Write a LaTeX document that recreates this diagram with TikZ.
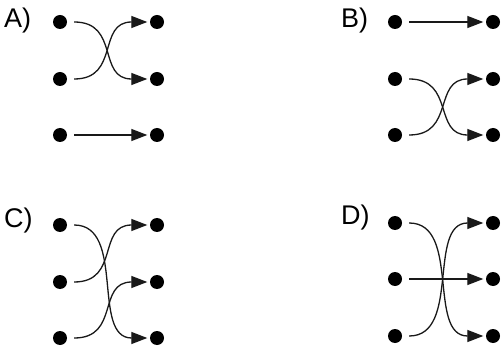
\documentclass[tikz,border=0pt]{standalone}
\usepackage{fontspec}
\setmainfont{Liberation Sans}
\usetikzlibrary{arrows.meta}
\begin{document}
\begin{tikzpicture}[x=1pt,y=-1pt,
 dot/.style={circle,fill=black,inner sep=0pt,minimum size=14pt},
 conn/.style={line width=1.3pt,draw=black!90, -{Triangle[length=16pt,width=12pt]}, shorten <=7pt, shorten >=2.5pt},
 lab/.style={anchor=base west, inner sep=0pt, font=\fontsize{27}{27}\selectfont}]
\useasboundingbox (0,0) rectangle (502,352);
% labels
\node[lab] (la) at (4,28) {A)};
\node[lab] (lb) at (341,28) {B)};
\node[lab] (lc) at (4,227) {C)};
\node[lab] (ld) at (341,225) {D)};
% panel A
\node[dot] (a1) at (60,22) {};
\node[dot] (a2) at (60,79) {};
\node[dot] (a3) at (60,135) {};
\node[dot] (a4) at (157,22) {};
\node[dot] (a5) at (157,79) {};
\node[dot] (a6) at (157,135) {};
% panel B
\node[dot] (b1) at (395,22) {};
\node[dot] (b2) at (395,79) {};
\node[dot] (b3) at (395,135) {};
\node[dot] (b4) at (493,22) {};
\node[dot] (b5) at (493,79) {};
\node[dot] (b6) at (493,135) {};
% panel C
\node[dot] (c1) at (60,225) {};
\node[dot] (c2) at (60,282) {};
\node[dot] (c3) at (60,338) {};
\node[dot] (c4) at (157,225) {};
\node[dot] (c5) at (157,282) {};
\node[dot] (c6) at (157,338) {};
% panel D
\node[dot] (d1) at (395,223) {};
\node[dot] (d2) at (395,279) {};
\node[dot] (d3) at (395,336) {};
\node[dot] (d4) at (493,223) {};
\node[dot] (d5) at (493,279) {};
\node[dot] (d6) at (493,336) {};
% connectors A
\draw[conn] (a1) .. controls +(60,0) and +(-60,0) .. (a5);
\draw[conn] (a2) .. controls +(60,0) and +(-60,0) .. (a4);
\draw[conn] (a3) -- (a6);
% connectors B
\draw[conn] (b1) -- (b4);
\draw[conn] (b2) .. controls +(60,0) and +(-60,0) .. (b6);
\draw[conn] (b3) .. controls +(60,0) and +(-60,0) .. (b5);
% connectors C
\draw[conn] (c1) .. controls +(66,0) and +(-66,0) .. (c6);
\draw[conn] (c2) .. controls +(60,0) and +(-60,0) .. (c4);
\draw[conn] (c3) .. controls +(60,0) and +(-60,0) .. (c5);
% connectors D
\draw[conn] (d1) .. controls +(66,0) and +(-66,0) .. (d6);
\draw[conn] (d2) -- (d5);
\draw[conn] (d3) .. controls +(66,0) and +(-66,0) .. (d4);
\end{tikzpicture}
\end{document}
